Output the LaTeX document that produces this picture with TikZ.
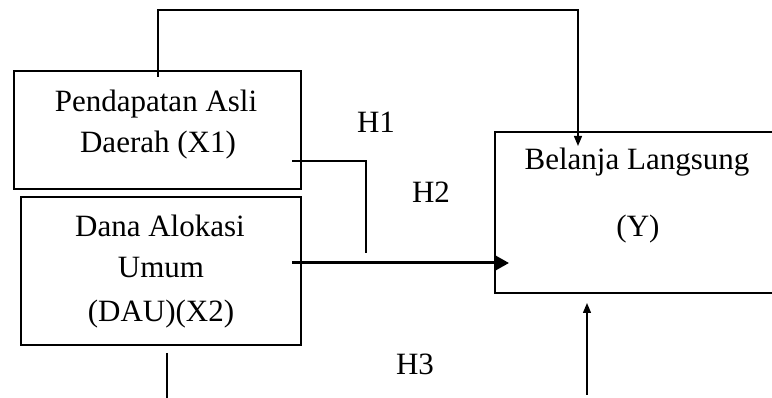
\documentclass[tikz,border=0pt]{standalone}
\usepackage{fontspec}
\setmainfont{Liberation Serif}
\usetikzlibrary{arrows.meta}
\begin{document}
\begin{tikzpicture}[x=1pt,y=-1pt,
  varbox/.style={draw,line width=1.8pt,inner sep=0pt,anchor=north west},
  label/.style={font=\fontsize{31}{37}\selectfont,inner sep=0pt,anchor=base},
  link/.style={line width=1.3pt},
  thinarrow/.style={link,-{Triangle[length=10pt,width=8pt]}},
  boldarrow/.style={line width=3pt,-{Triangle[length=15pt,width=16pt]}}]
\useasboundingbox (0,0) rectangle (772,398);
% variable boxes
\node[varbox,minimum width=287pt,minimum height=118pt] (x1) at (13,70) {};
\node[varbox,minimum width=280pt,minimum height=148pt] (x2) at (20,196) {};
\node[varbox,minimum width=300pt,minimum height=161pt] (y) at (494,131) {};
% box texts
\node[label] (x1a) at (156,112) {Pendapatan Asli};
\node[label] (x1b) at (158,153) {Daerah (X1)};
\node[label] (x2a) at (160,237) {Dana Alokasi};
\node[label] (x2b) at (161,278) {Umum};
\node[label] (x2c) at (161,322) {(DAU)(X2)};
\node[label] (ya) at (637,170) {Belanja Langsung};
\node[label] (yb) at (638,237) {(Y)};
% hypothesis labels
\node[label] (h1) at (376,133) {H1};
\node[label] (h2) at (431,203) {H2};
\node[label] (h3) at (415,375) {H3};
% connector end points
\coordinate (topstart) at (158,77);
\coordinate (topl) at (158,10);
\coordinate (topr) at (578,10);
\coordinate (topend) at (578,146);
\coordinate (h1start) at (292,161);
\coordinate (h1corner) at (366,161);
\coordinate (h1end) at (366,253);
\coordinate (h2start) at (292,263);
\coordinate (h2end) at (509,263);
\coordinate (h3left) at (167,353);
\coordinate (h3leftend) at (167,398);
\coordinate (h3start) at (587,395);
\coordinate (h3end) at (587,303);
% connectors
\draw[thinarrow] (topstart) -- (topl) -- (topr) -- (topend);
\draw[link] (h1start) -- (h1corner) -- (h1end);
\draw[boldarrow] (h2start) -- (h2end);
\draw[link] (h3left) -- (h3leftend);
\draw[thinarrow] (h3start) -- (h3end);
\end{tikzpicture}
\end{document}
